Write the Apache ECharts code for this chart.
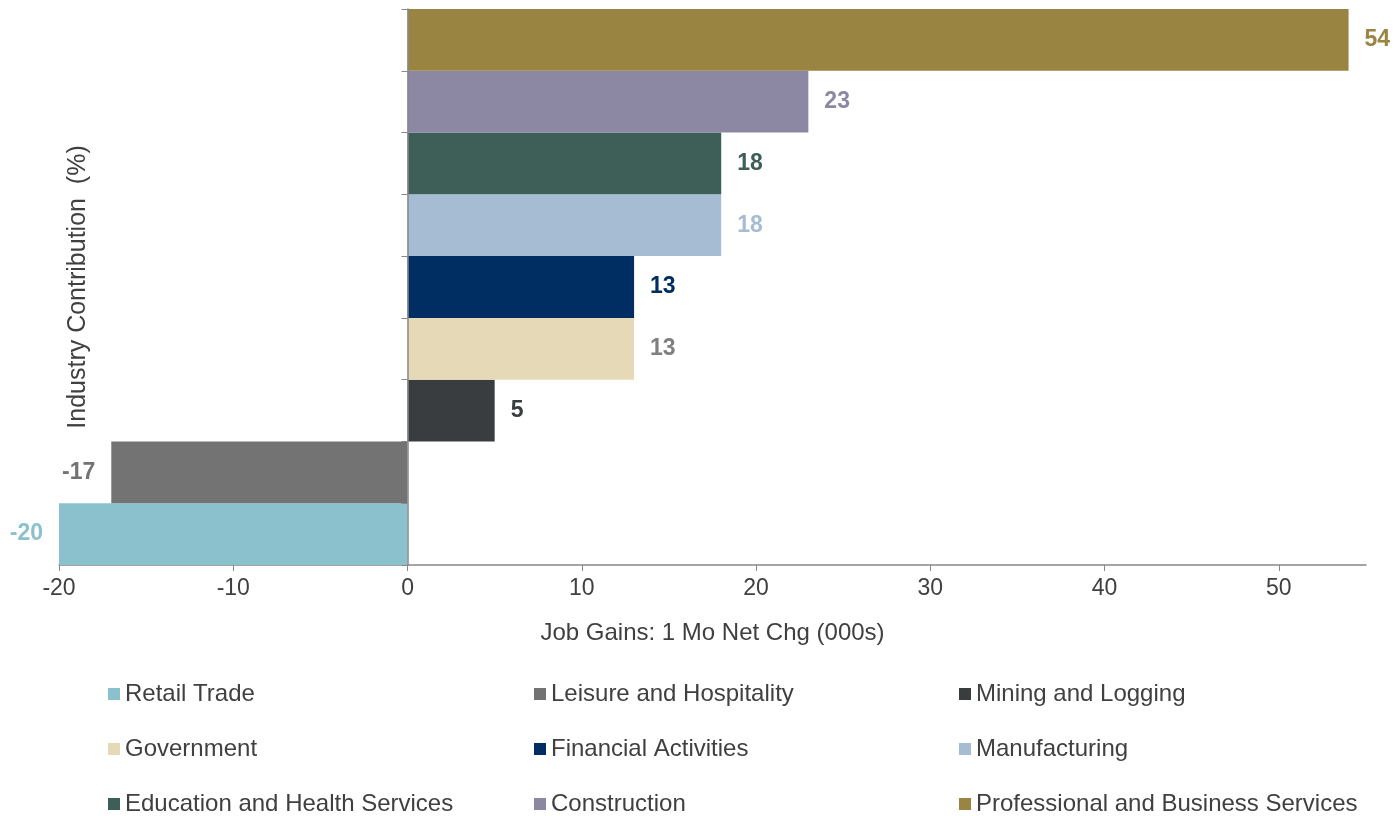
<!DOCTYPE html>
<html>
<head>
<meta charset="utf-8">
<script src="https://cdn.jsdelivr.net/npm/echarts@6/dist/echarts.min.js"></script>
<style>
  html, body { margin: 0; padding: 0; background: #fff; }
  #chart { width: 1398px; height: 816px; }
</style>
</head>
<body>
<div id="chart"></div>
<script>
// categories, bottom to top
const industries = [
  'Retail Trade',
  'Leisure and Hospitality',
  'Mining and Logging',
  'Government',
  'Financial Activities',
  'Manufacturing',
  'Education and Health Services',
  'Construction',
  'Professional and Business Services'
];
const jobGains = [-20, -17, 5, 13, 13, 18, 18, 23, 54];
const barColors = ['#8BC1CD', '#737373', '#3A3D40', '#E5D9B8', '#002D62', '#A6BCD3', '#3E5E58', '#8C88A3', '#9A8442'];
const labelColors = ['#8BC1CD', '#737373', '#3A3D40', '#7F7F7F', '#002D62', '#A6BCD3', '#3E5E58', '#8C88A3', '#9A8442'];
const xTicks = [-20, -10, 0, 10, 20, 30, 40, 50];

const FONT = '"Liberation Sans", Arial, sans-serif';
const TEXT = '#404040';

const myChart = echarts.init(document.getElementById('chart'));

// one series per industry, all overlapping in the same band
const series = industries.map((name, i) => ({
  name: name,
  type: 'bar',
  barGap: '-100%',
  barCategoryGap: '0%',
  itemStyle: { color: barColors[i] },
  label: {
    show: true,
    position: jobGains[i] < 0 ? 'left' : 'right',
    distance: 16,
    color: labelColors[i],
    fontFamily: FONT,
    fontWeight: 'bold',
    fontSize: 23
  },
  data: industries.map((c, j) => (j === i ? jobGains[i] : '-'))
}));

// legend: 3 columns x 3 rows
const colLeft = [108, 534, 959];
const rowTop = [682, 737, 792];
const legends = industries.map((name, i) => ({
  data: [name],
  left: colLeft[i % 3],
  top: rowTop[Math.floor(i / 3)],
  padding: 0,
  icon: 'rect',
  itemWidth: 12,
  itemHeight: 12,
  selectedMode: false,
  textStyle: { color: TEXT, fontFamily: FONT, fontSize: 24 }
}));

const option = {
  animation: false,
  grid: { left: 59, right: 32, top: 9, bottom: 251 },
  legend: legends,
  xAxis: {
    type: 'value',
    min: -20,
    max: 55,
    interval: 10,
    name: 'Job Gains: 1 Mo Net Chg (000s)',
    nameLocation: 'middle',
    nameGap: 56,
    nameTextStyle: { color: TEXT, fontFamily: FONT, fontSize: 24 },
    axisLine: { show: true, lineStyle: { color: '#888', width: 1.5 } },
    axisTick: { show: true, length: 6, customValues: xTicks, lineStyle: { color: '#888' } },
    axisLabel: { customValues: xTicks, color: TEXT, fontFamily: FONT, fontSize: 23, margin: 12 },
    splitLine: { show: false }
  },
  yAxis: {
    type: 'category',
    data: industries,
    z: 5,
    axisLine: { show: true, onZero: true, lineStyle: { color: '#888', width: 1.5 } },
    axisTick: { show: true, length: 6, lineStyle: { color: '#888' } },
    axisLabel: { show: false },
    splitLine: { show: false }
  },
  graphic: [{
    type: 'text',
    x: 78,
    y: 287,
    rotation: Math.PI / 2,
    style: {
      text: 'Industry Contribution  (%)',
      fill: TEXT,
      font: '25px ' + FONT,
      textAlign: 'center',
      textVerticalAlign: 'middle'
    }
  }],
  series: series
};
myChart.setOption(option);
</script>
</body>
</html>
